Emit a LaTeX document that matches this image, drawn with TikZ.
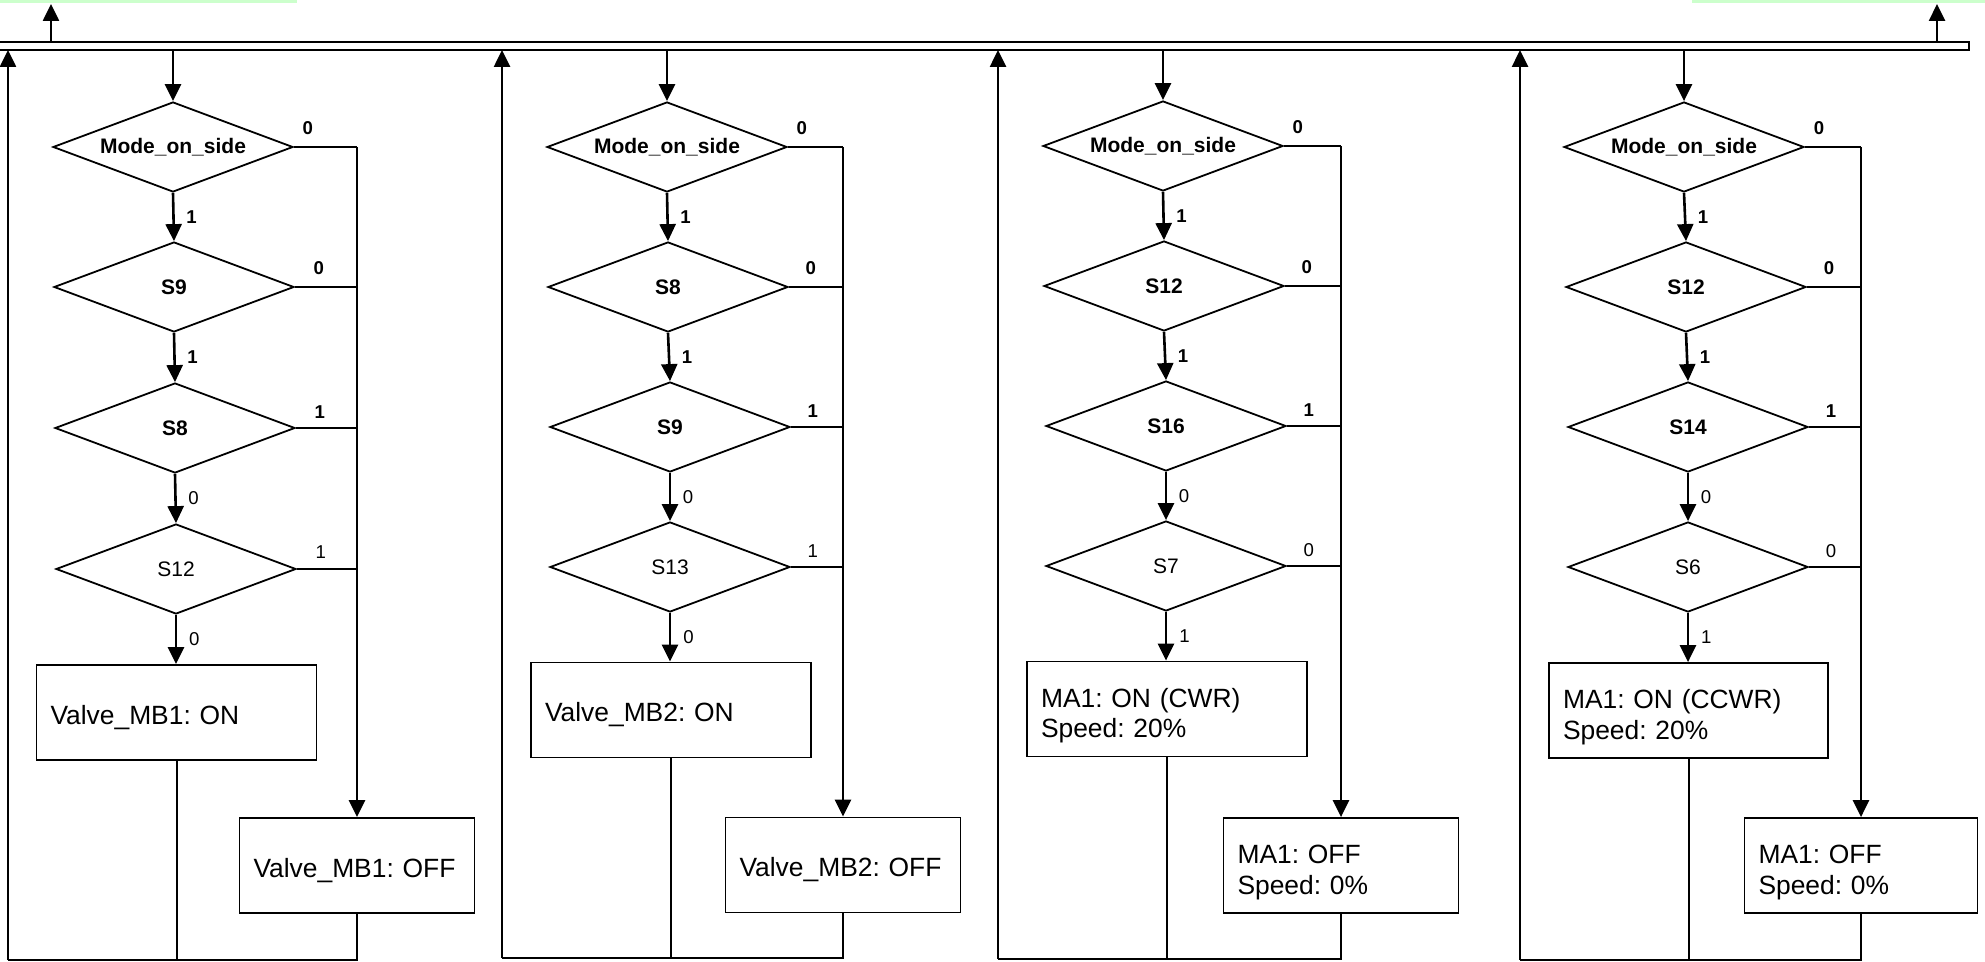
\documentclass[tikz,border=0pt]{standalone}
\usepackage{fontspec}
\setmainfont{Liberation Sans}
\usetikzlibrary{shapes.geometric,arrows.meta,calc}
\frenchspacing
\newcommand{\dfont}{\fontsize{10.5}{12}\selectfont}
\newcommand{\lfont}{\fontsize{9.3}{11}\selectfont}
\newcommand{\bxfont}{\fontsize{13.2}{15.3}\selectfont}
\newcommand{\bt}[2]{\raisebox{-#1}[\height][\depth]{\begin{tabular}{@{}l@{}}#2\end{tabular}}}
\definecolor{lgreen}{RGB}{204,255,204}
\tikzset{
  dia/.style={draw, shape=diamond, line width=0.9pt, minimum width=120pt, minimum height=45pt, inner sep=0pt},
  dtb/.style={font=\dfont\bfseries, inner sep=0pt},
  dtn/.style={font=\dfont, inner sep=0pt},
  lb/.style={font=\lfont\bfseries, inner sep=0pt},
  ln/.style={font=\lfont, inner sep=0pt},
  onbox/.style={draw, line width=0.9pt, minimum height=47.5pt, text width=126pt, inner xsep=7pt, inner ysep=0pt, align=left, font=\bxfont},
  offbox/.style={draw, line width=0.9pt, minimum height=47.5pt, text width=103.5pt, inner xsep=7pt, inner ysep=0pt, align=left, font=\bxfont},
  arr/.style={line width=1.3pt, -{Triangle[length=8.5pt,width=8pt]}},
  thk/.style={line width=1.3pt},
  thn/.style={line width=1pt},
}
\begin{document}
\begin{tikzpicture}[x=0.5pt,y=-0.5pt]
\useasboundingbox (0,0) rectangle (1985,962);
% green bars
\fill[lgreen] (0,0) rectangle (297,3);
\fill[lgreen] (1692,0) rectangle (1985,3);
% bus
\node[draw, line width=0.8pt, minimum width=994.5pt, minimum height=4pt, inner sep=0pt, outer sep=0pt] (bus) at (974.5,46) {};
\coordinate (t1) at (51,4);
\coordinate (t2) at (1937,4);
\draw[arr] (bus.north -| t1) -- (t1);
\draw[arr] (bus.north -| t2) -- (t2);

% ===== Column 1 =====
\node[dia, label={[dtb]center:Mode\_on\_side}] (d11) at (173,147) {};
\node[dia, label={[dtb]center:S9}] (d12) at (174,287) {};
\node[dia, label={[dtb]center:S8}] (d13) at (175,428) {};
\node[dia, label={[dtn]center:S12}] (d14) at (176,569) {};
\node[onbox] (on1) at (176.5,712.5) {\bt{2.9pt}{Valve\_MB1: ON}};
\node[offbox] (off1) at (357,865.5) {\bt{2.9pt}{Valve\_MB1: OFF}};
\coordinate (r1) at (357,147);
\coordinate (b1) at (8,960);
\draw[arr] (bus.south -| d11.north) -- (d11.north);
\draw[arr] (d11.south) -- (d12.north);
\draw[arr] (d12.south) -- (d13.north);
\draw[arr] (d13.south) -- (d14.north);
\draw[arr] (d14.south) -- (d14.south |- on1.north);
\draw[thn] (d11.east) -- (r1);
\draw[thn] (d12.east) -- (d12.east -| r1);
\draw[thn] (d13.east) -- (d13.east -| r1);
\draw[thn] (d14.east) -- (d14.east -| r1);
\draw[arr] (r1) -- (off1.north);
\draw[thk] (off1.south) |- (b1);
\draw[thn] (on1.south) -- (on1.south |- b1);
\draw[arr] (b1) -- (b1 |- bus.south);
\node[lb] (l11) at ($(d11.east)+(14,-19)$) {0};
\node[lb] (l12) at ($(d12.east)+(24,-19)$) {0};
\node[lb] (l13) at ($(d13.east)+(24,-16)$) {1};
\node[ln] (l14) at ($(d14.east)+(24,-17)$) {1};
\node[lb] (m11) at ($(d11.south)!0.5!(d12.north)+(18,0)$) {1};
\node[lb] (m12) at ($(d12.south)!0.5!(d13.north)+(18,0)$) {1};
\node[ln] (m13) at ($(d13.south)!0.5!(d14.north)+(18,0)$) {0};
\node[ln] (m14) at ($(d14.south)!0.5!(on1.north)+(18,0)$) {0};

% ===== Column 2 =====
\node[dia, label={[dtb]center:Mode\_on\_side}] (d21) at (667,147) {};
\node[dia, label={[dtb]center:S8}] (d22) at (668,287) {};
\node[dia, label={[dtb]center:S9}] (d23) at (670,427) {};
\node[dia, label={[dtn]center:S13}] (d24) at (670,567) {};
\node[onbox] (on2) at (671,710) {\bt{2.9pt}{Valve\_MB2: ON}};
\node[offbox] (off2) at (843,865) {\bt{2.9pt}{Valve\_MB2: OFF}};
\coordinate (r2) at (843,147);
\coordinate (b2) at (502,958);
\draw[arr] (bus.south -| d21.north) -- (d21.north);
\draw[arr] (d21.south) -- (d22.north);
\draw[arr] (d22.south) -- (d23.north);
\draw[arr] (d23.south) -- (d24.north);
\draw[arr] (d24.south) -- (d24.south |- on2.north);
\draw[thn] (d21.east) -- (r2);
\draw[thn] (d22.east) -- (d22.east -| r2);
\draw[thn] (d23.east) -- (d23.east -| r2);
\draw[thn] (d24.east) -- (d24.east -| r2);
\draw[arr] (r2) -- (off2.north);
\draw[thk] (off2.south) |- (b2);
\draw[thn] (on2.south) -- (on2.south |- b2);
\draw[arr] (b2) -- (b2 |- bus.south);
\node[lb] (l21) at ($(d21.east)+(14,-19)$) {0};
\node[lb] (l22) at ($(d22.east)+(22,-19)$) {0};
\node[lb] (l23) at ($(d23.east)+(22,-16)$) {1};
\node[ln] (l24) at ($(d24.east)+(22,-16)$) {1};
\node[lb] (m21) at ($(d21.south)!0.5!(d22.north)+(18,0)$) {1};
\node[lb] (m22) at ($(d22.south)!0.5!(d23.north)+(18,0)$) {1};
\node[ln] (m23) at ($(d23.south)!0.5!(d24.north)+(18,0)$) {0};
\node[ln] (m24) at ($(d24.south)!0.5!(on2.north)+(18,0)$) {0};

% ===== Column 3 =====
\node[dia, label={[dtb]center:Mode\_on\_side}] (d31) at (1163,146) {};
\node[dia, label={[dtb]center:S12}] (d32) at (1164,286) {};
\node[dia, label={[dtb]center:S16}] (d33) at (1166,426) {};
\node[dia, label={[dtn]center:S7}] (d34) at (1166,566) {};
\node[onbox] (on3) at (1167,709) {\bt{3.7pt}{MA1: ON (CWR)\\Speed: 20\%}};
\node[offbox] (off3) at (1341,865.5) {\bt{3.7pt}{MA1: OFF\\Speed: 0\%}};
\coordinate (r3) at (1341,146);
\coordinate (b3) at (998,959);
\draw[arr] (bus.south -| d31.north) -- (d31.north);
\draw[arr] (d31.south) -- (d32.north);
\draw[arr] (d32.south) -- (d33.north);
\draw[arr] (d33.south) -- (d34.north);
\draw[arr] (d34.south) -- (d34.south |- on3.north);
\draw[thn] (d31.east) -- (r3);
\draw[thn] (d32.east) -- (d32.east -| r3);
\draw[thn] (d33.east) -- (d33.east -| r3);
\draw[thn] (d34.east) -- (d34.east -| r3);
\draw[arr] (r3) -- (off3.north);
\draw[thk] (off3.south) |- (b3);
\draw[thn] (on3.south) -- (on3.south |- b3);
\draw[arr] (b3) -- (b3 |- bus.south);
\node[lb] (l31) at ($(d31.east)+(14,-19)$) {0};
\node[lb] (l32) at ($(d32.east)+(22,-19)$) {0};
\node[lb] (l33) at ($(d33.east)+(22,-16)$) {1};
\node[ln] (l34) at ($(d34.east)+(22,-16)$) {0};
\node[lb] (m31) at ($(d31.south)!0.5!(d32.north)+(18,0)$) {1};
\node[lb] (m32) at ($(d32.south)!0.5!(d33.north)+(18,0)$) {1};
\node[ln] (m33) at ($(d33.south)!0.5!(d34.north)+(18,0)$) {0};
\node[ln] (m34) at ($(d34.south)!0.5!(on3.north)+(18,0)$) {1};

% ===== Column 4 =====
\node[dia, label={[dtb]center:Mode\_on\_side}] (d41) at (1684,147) {};
\node[dia, label={[dtb]center:S12}] (d42) at (1686,287) {};
\node[dia, label={[dtb]center:S14}] (d43) at (1688,427) {};
\node[dia, label={[dtn]center:S6}] (d44) at (1688,567) {};
\node[onbox, text width=125.5pt] (on4) at (1688.5,710.5) {\bt{3.7pt}{MA1: ON (CCWR)\\Speed: 20\%}};
\node[offbox, text width=102.5pt] (off4) at (1861,865.5) {\bt{3.7pt}{MA1: OFF\\Speed: 0\%}};
\coordinate (r4) at (1861,147);
\coordinate (b4) at (1520,960);
\draw[arr] (bus.south -| d41.north) -- (d41.north);
\draw[arr] (d41.south) -- (d42.north);
\draw[arr] (d42.south) -- (d43.north);
\draw[arr] (d43.south) -- (d44.north);
\draw[arr] (d44.south) -- (d44.south |- on4.north);
\draw[thn] (d41.east) -- (r4);
\draw[thn] (d42.east) -- (d42.east -| r4);
\draw[thn] (d43.east) -- (d43.east -| r4);
\draw[thn] (d44.east) -- (d44.east -| r4);
\draw[arr] (r4) -- (off4.north);
\draw[thk] (off4.south) |- (b4);
\draw[thn] (on4.south) -- (on4.south |- b4);
\draw[arr] (b4) -- (b4 |- bus.south);
\node[lb] (l41) at ($(d41.east)+(14,-19)$) {0};
\node[lb] (l42) at ($(d42.east)+(22,-19)$) {0};
\node[lb] (l43) at ($(d43.east)+(22,-16)$) {1};
\node[ln] (l44) at ($(d44.east)+(22,-16)$) {0};
\node[lb] (m41) at ($(d41.south)!0.5!(d42.north)+(18,0)$) {1};
\node[lb] (m42) at ($(d42.south)!0.5!(d43.north)+(18,0)$) {1};
\node[ln] (m43) at ($(d43.south)!0.5!(d44.north)+(18,0)$) {0};
\node[ln] (m44) at ($(d44.south)!0.5!(on4.north)+(18,0)$) {1};
\end{tikzpicture}
\end{document}
